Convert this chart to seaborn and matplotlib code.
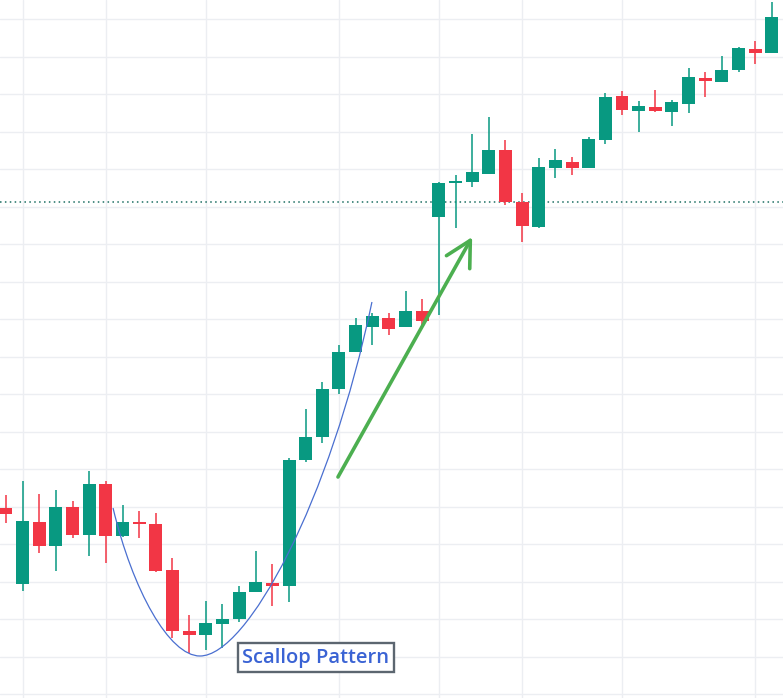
import matplotlib

matplotlib.use("Agg")
import matplotlib.pyplot as plt
import numpy as np
import pandas as pd
import seaborn as sns
from matplotlib.path import Path
from matplotlib.patches import PathPatch

# candle prices (arbitrary units), one entry per bar
opens = [192, 116, 178, 154, 193, 165, 216, 164, 178, 176, 130, 69, 65, 76, 81, 108,
         117, 114, 240, 263, 311, 348, 373, 382, 373, 389, 483, 517, 518, 526, 550, 498,
         473, 532, 538, 532, 560, 604, 589, 593, 588, 596, 622, 618, 630, 651, 647]
highs = [205, 219, 206, 210, 199, 229, 219, 195, 189, 187, 142, 85, 99, 96, 114, 149,
         136, 242, 291, 318, 355, 382, 387, 387, 409, 401, 518, 525, 566, 583, 560, 507,
         542, 551, 543, 563, 607, 609, 599, 610, 600, 632, 628, 644, 653, 659, 698]
lows = [177, 109, 147, 129, 162, 144, 137, 163, 162, 128, 62, 47, 50, 52, 78, 108,
        94, 98, 238, 257, 306, 348, 355, 365, 373, 373, 385, 472, 513, 526, 495, 458,
        472, 522, 525, 532, 556, 585, 568, 588, 574, 587, 603, 618, 628, 636, 647]
closes = [186, 179, 154, 193, 165, 216, 164, 178, 176, 129, 69, 65, 77, 81, 108, 118,
          114, 240, 263, 311, 348, 375, 384, 371, 389, 379, 517, 519, 528, 550, 498, 474,
          533, 540, 532, 561, 603, 590, 594, 589, 598, 623, 619, 630, 652, 647, 683]

# bars where the date grid lines fall
grid_bars = [1, 6, 12, 20, 26, 31, 37, 45]
last_price = 498

UP = "#089981"
DOWN = "#f23645"
GRID = "#eceef2"

df = pd.DataFrame({"open": opens, "high": highs, "low": lows, "close": closes})
df["bar"] = np.arange(len(df))
df["up"] = df["close"] >= df["open"]
df["color"] = np.where(df["up"], UP, DOWN)

sns.set_theme(style="white")
plt.rcParams["font.family"] = ["Open Sans", "DejaVu Sans"]

fig = plt.figure(figsize=(7.83, 6.98), dpi=100)
ax = fig.add_axes([0, 0, 1, 1])

# grid
for b in grid_bars:
    ax.axvline(b, color=GRID, lw=1, zorder=0)
for p in np.arange(6, 700, 37.5):
    ax.axhline(p, color=GRID, lw=1, zorder=0)

# wicks and bodies
ax.vlines(df["bar"], df["low"], df["high"], colors=df["color"], lw=1.1, zorder=2)
body = (df["close"] - df["open"]).abs().clip(lower=2.5)
bottom = df[["open", "close"]].min(axis=1)
ax.bar(df["bar"], body, bottom=bottom, width=0.78, color=df["color"], lw=0, zorder=3)

# last price line
ax.axhline(last_price, color="#1d6f63", lw=1.1, ls=(0, (1, 2.2)), zorder=1)

# scallop curve
verts = [(6.43, 192), (7.6, 110), (9.8, 44), (11.65, 44),
         (14.5, 44), (19.5, 200), (21.98, 398)]
codes = [Path.MOVETO] + [Path.CURVE4] * 6
ax.add_patch(PathPatch(Path(verts, codes), fc="none", ec="#4a6fd0", lw=0.9, zorder=4))

# breakout arrow
ax.annotate("", xy=(28.0, 463), xytext=(19.94, 223),
            arrowprops=dict(arrowstyle="->,head_length=1.5,head_width=0.8",
                            color="#4caf50", lw=2.6, shrinkA=0, shrinkB=0,
                            capstyle="round", joinstyle="round"),
            zorder=5)

ax.text(18.62, 42.5, "Scallop Pattern", ha="center", va="center",
        fontsize=14.5, fontweight="semibold", color="#3a63d4", zorder=6,
        bbox=dict(boxstyle="square,pad=0.22", fc="white", ec="#5c6670", lw=1.7))

ax.set_xlim(-0.36, 46.67)
ax.set_ylim(2, 700)
ax.set_xticks([])
ax.set_yticks([])
sns.despine(ax=ax, left=True, bottom=True)

fig.savefig("out.png", dpi=100)
